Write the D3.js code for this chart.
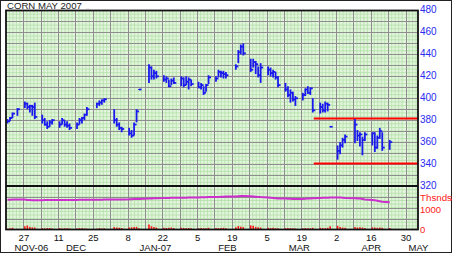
<!DOCTYPE html>
<html><head><meta charset="utf-8">
<script src="https://cdn.jsdelivr.net/npm/d3@7/dist/d3.min.js"></script>
<style>
body{margin:0;background:#fff}
svg{display:block}
text{font-family:"Liberation Sans",Arial,sans-serif}
</style>
</head><body>
<svg id="c" width="452" height="253"></svg>
<script>
// ---------------- DATA ----------------
const title = "CORN MAY 2007";
const firstDay = "2006-11-20";
const lastDay = "2007-04-23";
const holidays = ["2006-11-23","2006-12-25","2007-01-01","2007-01-15","2007-02-19","2007-04-06"];

const highs = [381,383,387,391, 397,396,394,394,396, 385,382,379,380,381, 379,382,380,379,377,
  378,382,383,386,392, 396,398,399,400, 390,382,378,374, 373,371,378,390,408,
  431,429,426,425, 421,420,417,418,419, 420,419,420,419,417, 415,414,411,413,421,
  420,426,425,425,424, 431,444,449,450, 436,436,434,429,432, 429,428,426,424,420,
  414,411,408,406,402, 405,409,411,410,400, 396,395,397,396,374, 357,360,364,367,
  381,371,369,365,369, 369,369,366,373,369, 362];
const lows = [377,379,382,384, 391,390,387,384,381, 377,375,372,374,376, 373,376,374,373,371,
  372,376,377,380,384, 391,393,394,396, 377,374,371,369, 366,364,366,378,408,
  414,417,417,418, 415,414,410,412,413, 411,410,412,408,411, 409,408,403,406,413,
  415,419,419,418,418, 426,432,440,439, 424,428,422,419,414, 421,420,419,417,410,
  406,401,396,397,393, 398,402,404,403,387, 386,387,387,388,374, 344,349,355,359,
  359,361,356,348,361, 357,351,354,363,352, 353];
const closes = [379,382,386,390, 395,392,393,392,383, 380,376,374,378,380, 376,380,376,375,373,
  376,380,382,385,390, 395,396,398,399, 380,376,373,372, 368,366,376,388,408,
  428,420,423,420, 417,418,411,416,414, 418,412,415,417,413, 410,412,405,412,419,
  418,424,423,422,421, 429,442,447,441, 426,433,431,421,428, 426,423,424,419,412,
  408,403,405,399,400, 403,408,405,409,389, 392,389,395,394,374, 352,357,362,365,
  376,366,367,362,367, 368,355,364,370,355, 360];
const volumes = [40,60,80,30, 150,180,120,100,90, 60,50,60,70,50, 60,50,55,60,45,
  50,60,55,50,40, 40,60,50,55, 110,90,80,70, 90,100,110,120,60,
  230,150,110,90, 80,70,80,90,70, 80,70,60,70,60, 60,70,60,60,80,
  70,60,70,80,60, 100,160,130,110, 190,170,120,100,90, 80,70,80,60,60,
  60,70,60,60,50, 60,70,60,60,80, 80,70,60,80,150, 170,110,90,80,
  120,90,100,90,70, 100,90,80,90,80, 70];
const openInterest = [1372,1372,1375,1375, 1375,1360,1355,1350,1350, 1350,1352,1355,1355,1358,
  1360,1360,1358,1360,1362, 1362,1365,1365,1368,1370, 1370,1372,1372,1375,
  1378,1380,1382,1385, 1390,1395,1398,1400,1405, 1420,1430,1435,1440,
  1445,1450,1452,1455,1458, 1460,1462,1465,1468,1470, 1475,1478,1480,1485,1490,
  1495,1500,1505,1510,1515, 1520,1530,1535,1535, 1530,1520,1510,1500,1490,
  1470,1460,1450,1440,1430, 1420,1415,1410,1405,1400, 1400,1410,1420,1430,1440,
  1450,1455,1460,1465,1470, 1475,1470,1460,1450, 1440,1430,1420,1400,1380,
  1360,1340,1320,1300,1280, 1250];

const priceTicks = [480,460,440,420,400,380,360,340,320];
const dayTickDates = ["2006-11-27","2006-12-11","2006-12-25","2007-01-08","2007-01-22","2007-02-05",
  "2007-02-19","2007-03-05","2007-03-19","2007-04-02","2007-04-16","2007-04-30"];
const dayTickLabels = ["27","11","25","8","22","5","19","5","19","2","16","30"];
const monthLabelDates = ["2006-11-30","2006-12-18","2007-01-19","2007-02-17","2007-03-18","2007-04-16","2007-05-05"];
const monthLabels = ["NOV-06","DEC","JAN-07","FEB","MAR","APR","MAY"];
const volTicks = [1000, 0];
const volTickLabels = ["1000","0"];
const volUnitLabel = "Thsnds";
const channelTop = 381.5, channelBottom = 340.5;
const channelStart = "2007-03-24";

// ---------------- SETUP ----------------
const parse = d3.timeParse("%Y-%m-%d");
const fmt = d3.timeFormat("%Y-%m-%d");
const hol = new Set(holidays);
const dates = d3.timeDay.range(parse(firstDay), d3.timeDay.offset(parse(lastDay),1))
  .filter(d => d.getDay() !== 0 && d.getDay() !== 6 && !hol.has(fmt(d)));
const data = dates.map((d,i) => ({date:d, h:highs[i], l:lows[i], c:closes[i], v:volumes[i], oi:openInterest[i]}));

const L = 6, R = 418, T = 10.5, MID = 186, B = 229.5;
const x = d3.scaleTime().domain([parse("2006-11-20"), parse("2007-05-05")]).range([L, R]);
const y = d3.scaleLinear().domain([320, 480]).range([MID, T]);
const yv = d3.scaleLinear().domain([0, 2000]).range([B, MID]);
const FONT = "'Liberation Sans',Arial,sans-serif";

const svg = d3.select("#c");
svg.append("rect").attr("x",0.5).attr("y",0.5).attr("width",451).attr("height",252)
  .attr("fill","#fff").attr("stroke","#222").attr("stroke-width",1);

// plot background
svg.append("rect").attr("x",L).attr("y",T).attr("width",R-L).attr("height",B-T).attr("fill","#e3f5dd");

const grid = svg.append("g");
// fine vertical grid (5 per week)
const mondays = d3.timeMonday.range(parse("2006-11-13"), parse("2007-05-08"));
const fineX = [];
mondays.forEach(m => { for (let k=1;k<5;k++) fineX.push(new Date(+m + k*1.4*864e5)); });
grid.selectAll(".fx").data(fineX.filter(d => x(d)>L && x(d)<R)).join("line")
  .attr("x1",d=>x(d)).attr("x2",d=>x(d)).attr("y1",T).attr("y2",B)
  .attr("stroke","#b3e0a8").attr("stroke-width",0.8);
const fineY = d3.range(320, 480, 10/3);
grid.selectAll(".fy").data(fineY).join("line")
  .attr("x1",L).attr("x2",R).attr("y1",d=>y(d)).attr("y2",d=>y(d))
  .attr("stroke","#b3e0a8").attr("stroke-width",0.8);
const fineV = d3.range(0, 2000, 500/3);
grid.selectAll(".fv").data(fineV).join("line")
  .attr("x1",L).attr("x2",R).attr("y1",d=>yv(d)).attr("y2",d=>yv(d))
  .attr("stroke","#b3e0a8").attr("stroke-width",0.8);
// medium grey grid
grid.selectAll(".gx").data(mondays.filter(d => x(d)>L+1 && x(d)<R-1)).join("line")
  .attr("x1",d=>Math.round(x(d))+0.5).attr("x2",d=>Math.round(x(d))+0.5).attr("y1",T).attr("y2",B)
  .attr("stroke","#8e8e8e").attr("stroke-width",1);
grid.selectAll(".gy").data(d3.range(330, 480, 10)).join("line")
  .attr("x1",L).attr("x2",R).attr("y1",d=>Math.round(y(d))+0.5).attr("y2",d=>Math.round(y(d))+0.5)
  .attr("stroke","#8e8e8e").attr("stroke-width",1);
grid.selectAll(".gv").data([500,1000,1500]).join("line")
  .attr("x1",L).attr("x2",R).attr("y1",d=>Math.round(yv(d))+0.5).attr("y2",d=>Math.round(yv(d))+0.5)
  .attr("stroke","#8e8e8e").attr("stroke-width",1);

// volume bars
svg.append("g").selectAll("line").data(data).join("line")
  .attr("x1",d=>x(d.date)+1.5).attr("x2",d=>x(d.date)+1.5)
  .attr("y1",yv(0)).attr("y2",d=>yv(d.v))
  .attr("stroke","#ff1a1a").attr("stroke-width",1.6);

// open interest line
svg.append("path").datum(data)
  .attr("d", d3.line().x(d=>x(d.date)+1.5).y(d=>yv(d.oi)))
  .attr("fill","none").attr("stroke","#cc2fcc").attr("stroke-width",2);

// channel lines
svg.append("g").selectAll("line").data([channelTop, channelBottom]).join("line")
  .attr("x1",x(parse(channelStart))).attr("x2",R).attr("y1",d=>y(d)).attr("y2",d=>y(d))
  .attr("stroke","#ff0000").attr("stroke-width",2);

// HLC bars
const bars = svg.append("g").attr("stroke","#1a1aee").attr("stroke-width",1.8);
bars.selectAll(".v").data(data).join("line")
  .attr("x1",d=>x(d.date)+1.5).attr("x2",d=>x(d.date)+1.5)
  .attr("y1",d=>y(d.h)+(d.h===d.l?-0.5:0)).attr("y2",d=>y(d.l)+(d.h===d.l?0.5:0));
bars.selectAll(".c").data(data).join("line")
  .attr("x1",d=>x(d.date)+1.5).attr("x2",d=>x(d.date)+4)
  .attr("y1",d=>y(d.c)).attr("y2",d=>y(d.c));

// frames
const fr = svg.append("g").attr("fill","none").attr("stroke","#111").attr("stroke-width",1.8);
fr.append("rect").attr("x",L).attr("y",T).attr("width",R-L).attr("height",B-T);
fr.append("line").attr("x1",L).attr("x2",R).attr("y1",MID).attr("y2",MID);

// right price axis
const ax = svg.append("g").attr("transform",`translate(${R},0)`)
  .call(d3.axisRight(y).tickValues(priceTicks).tickSize(0).tickPadding(2).tickFormat(d3.format("d")));
ax.select(".domain").remove();
ax.selectAll("text").attr("fill","#2a2af0").attr("font-size",10).attr("dy","0.22em")
  .attr("font-family",FONT);

// right volume axis
const axv = svg.append("g").attr("transform",`translate(${R},0)`)
  .call(d3.axisRight(yv).tickValues(volTicks).tickSize(0).tickPadding(2).tickFormat((d,i)=>volTickLabels[i]));
axv.select(".domain").remove();
axv.selectAll("text").attr("fill","#ff2020").attr("font-size",9.5).attr("dy",(d)=> d===0 ? "0.3em" : "0.55em")
  .attr("font-family",FONT);
svg.append("text").attr("x",R+2).attr("y",201).attr("fill","#ff2020").attr("font-size",8.5)
  .attr("textLength",32).attr("lengthAdjust","spacingAndGlyphs").text(volUnitLabel);

// bottom date axis (day numbers)
const axb = svg.append("g").attr("transform",`translate(0,${B})`)
  .call(d3.axisBottom(x).tickValues(dayTickDates.map(parse)).tickSize(0).tickPadding(0)
    .tickFormat((d,i)=>dayTickLabels[i]));
axb.select(".domain").remove();
axb.selectAll("text").attr("fill","#111").attr("font-size",9.5).attr("dy",null)
  .attr("y",11.5).attr("font-family",FONT);

// month labels
const axm = svg.append("g").attr("transform",`translate(0,${B})`)
  .call(d3.axisBottom(x).tickValues(monthLabelDates.map(parse)).tickSize(0).tickPadding(0)
    .tickFormat((d,i)=>monthLabels[i]));
axm.select(".domain").remove();
axm.selectAll("text").attr("fill","#111").attr("font-size",9.5).attr("dy",null)
  .attr("y",21).attr("font-family",FONT);

// title
svg.append("text").attr("x",7).attr("y",9).attr("font-size",9.6).attr("fill","#222").text(title);
svg.append("text").attr("x",86).attr("y",9).attr("font-size",6).attr("fill","#aaa").text("..");
</script>
</body></html>
